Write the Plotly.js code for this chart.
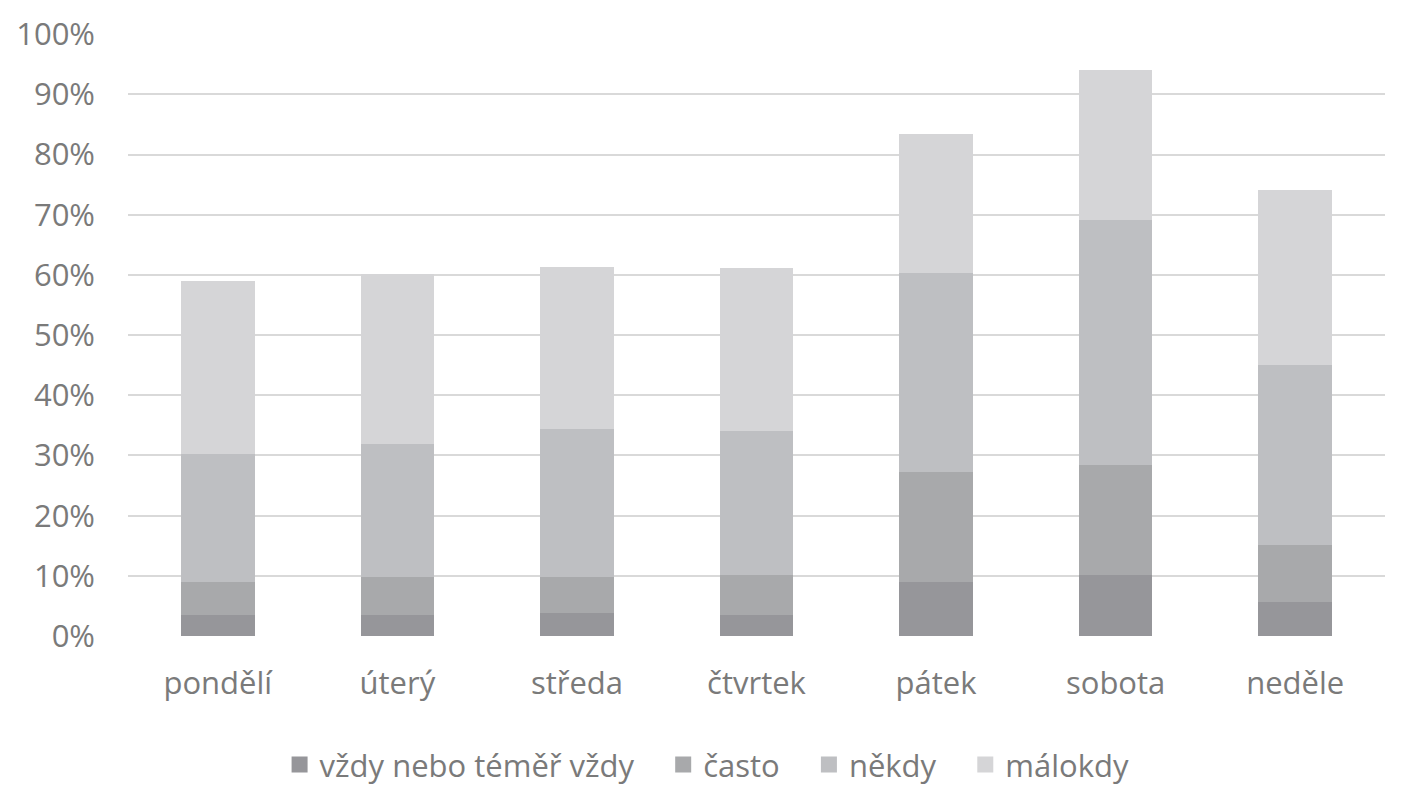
<!DOCTYPE html>
<html><head><meta charset="utf-8">
<script src="https://cdn.plot.ly/plotly-3.0.1.min.js"></script>
<style>body{margin:0;background:#fff}#c{width:1417px;height:800px}</style>
</head><body><div id="c"></div>
<script>
const days = ["pondělí","úterý","středa","čtvrtek","pátek","sobota","neděle"];
const seriesNames = ["vždy nebo téměř vždy","často","někdy","málokdy"];
const vzdy     = [0.035,0.035,0.038,0.035,0.089,0.101,0.056];
const casto    = [0.054,0.063,0.060,0.067,0.183,0.184,0.096];
const nekdy    = [0.213,0.221,0.246,0.239,0.331,0.407,0.299];
const malokdy  = [0.288,0.282,0.269,0.271,0.231,0.248,0.291];
const colors = ["#96969a","#a8a9ab","#bebfc2","#d5d5d7"];
const vals = [vzdy,casto,nekdy,malokdy];
const traces = vals.map((v,i)=>({type:"bar",name:seriesNames[i],x:days,y:v,marker:{color:colors[i]},showlegend:false,legendgroup:"g"+i,hoverinfo:"x+y"}));
// legend entries with larger square swatches
const pad = "\u00a0\u00a0\u00a0";
seriesNames.forEach((n,i)=>traces.push({type:"scatter",mode:"markers",name:n+(i<seriesNames.length-1?pad:""),x:[null],y:[null],legendgroup:"g"+i,
  marker:{symbol:"square",size:20,color:colors[i]},showlegend:true}));
const font = {family:"'Open Sans', Lato, sans-serif", color:"#7a7a7a", size:31};
Plotly.newPlot("c",traces,{
  width:1417,height:800,barmode:"stack",bargap:0.59,
  paper_bgcolor:"#fff",plot_bgcolor:"#fff",
  margin:{l:128,r:32,t:34,b:164,autoexpand:false},
  font:font,
  xaxis:{showgrid:false,zeroline:false,showline:false,ticks:"",tickfont:font,ticklabelstandoff:26},
  yaxis:{range:[0,1.0005],dtick:0.1,tick0:0,tickformat:".0%",gridcolor:"#d9d9d9",gridwidth:2,zeroline:false,showline:false,tickfont:font,ticklabelstandoff:32},
  legend:{orientation:"h",xref:"container",yref:"container",x:0.499,xanchor:"center",y:0.044,yanchor:"middle",font:font,traceorder:"normal",itemwidth:30}
},{displayModeBar:false,staticPlot:true});
</script></body></html>
